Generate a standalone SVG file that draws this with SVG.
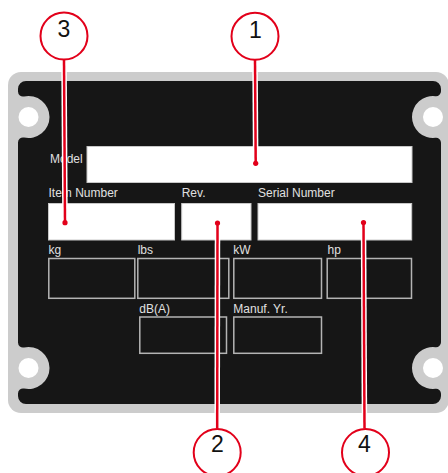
<svg xmlns="http://www.w3.org/2000/svg" width="448" height="473" viewBox="0 0 448 473">
<style>
.lbl{font-family:"Liberation Sans",Arial,sans-serif;font-size:12px;fill:#e0e0e0}
.fill{fill:#ffffff;stroke:#c8c8c8;stroke-width:1}
.out{fill:none;stroke:#b4b4b4;stroke-width:1.5}
.halo{stroke:#ffffff;stroke-width:5.5;fill:none}
.red{stroke:#e2001a;stroke-width:2.5;fill:none}
.dot{fill:#e2001a}
.circ{fill:#ffffff;stroke:#e2001a;stroke-width:2}
.num{font-family:"Liberation Sans",Arial,sans-serif;font-size:23px;fill:#111111;text-anchor:middle}
.hole{fill:#ffffff}
</style>
<rect width="448" height="473" fill="#ffffff"/>
<g id="plate">
<rect x="8" y="72" width="441" height="341" rx="13" fill="#cccccc"/>
<path fill="#161616" d="M26 81 H433 A8 8 0 0 1 441 89 V91.17 A5 5 0 0 1 435.42 96.14 A21 21 0 1 0 435.42 137.86 A5 5 0 0 1 441 142.83 V342.17 A5 5 0 0 1 435.42 347.14 A21 21 0 1 0 435.42 388.86 A5 5 0 0 1 441 393.83 V396 A8 8 0 0 1 433 404 H26 A8 8 0 0 1 18 396 V393.41 A5 5 0 0 1 24.06 388.52 A21 21 0 1 0 24.06 347.48 A5 5 0 0 1 18 342.59 V142.41 A5 5 0 0 1 24.06 137.52 A21 21 0 1 0 24.06 96.48 A5 5 0 0 1 18 91.59 V89 A8 8 0 0 1 26 81 Z"/>
<circle class="hole" cx="28.5" cy="117" r="10"/>
<circle class="hole" cx="433" cy="117" r="10"/>
<circle class="hole" cx="28.5" cy="368" r="10"/>
<circle class="hole" cx="433" cy="368" r="10"/>
</g>
<g id="field-model">
<text class="lbl" x="50" y="163.3">Model</text>
<rect class="fill" x="87" y="146.5" width="325" height="36"/>
</g>
<g id="field-item">
<text class="lbl" x="48.5" y="197.3">Item Number</text>
<rect class="fill" x="48.5" y="203.5" width="126" height="36.5"/>
</g>
<g id="field-rev">
<text class="lbl" x="181.7" y="197.3">Rev.</text>
<rect class="fill" x="181.7" y="203.5" width="69.3" height="36.5"/>
</g>
<g id="field-serial">
<text class="lbl" x="258" y="197.3">Serial Number</text>
<rect class="fill" x="258" y="203.5" width="153.7" height="36.5"/>
</g>
<g id="field-kg">
<text class="lbl" x="48.5" y="254">kg</text>
<rect class="out" x="48.8" y="258.5" width="86" height="39.8"/>
</g>
<g id="field-lbs">
<text class="lbl" x="137.7" y="254">lbs</text>
<rect class="out" x="137.8" y="258.5" width="91" height="39.8"/>
</g>
<g id="field-kw">
<text class="lbl" x="233.3" y="254">kW</text>
<rect class="out" x="233.8" y="258.5" width="87.7" height="39.8"/>
</g>
<g id="field-hp">
<text class="lbl" x="327.5" y="254">hp</text>
<rect class="out" x="327.2" y="258.5" width="84.3" height="39.8"/>
</g>
<g id="field-db">
<text class="lbl" x="139.3" y="312.7">dB(A)</text>
<rect class="out" x="139.8" y="317" width="86.7" height="36.3"/>
</g>
<g id="field-manuf">
<text class="lbl" x="233.3" y="312.7">Manuf. Yr.</text>
<rect class="out" x="233.8" y="317" width="87.7" height="36.3"/>
</g>
<g id="connectors">
<line class="halo" x1="255" y1="60" x2="255.7" y2="163.3"/>
<line class="halo" x1="64" y1="60" x2="65" y2="222.7"/>
<line class="halo" x1="217.5" y1="223" x2="217.2" y2="428.5"/>
<line class="halo" x1="363.5" y1="222.5" x2="364.5" y2="428.5"/>
<line class="red" x1="255" y1="60" x2="255.7" y2="163.3"/>
<line class="red" x1="64" y1="60" x2="65" y2="222.7"/>
<line class="red" x1="217.5" y1="223" x2="217.2" y2="428.5"/>
<line class="red" x1="363.5" y1="222.5" x2="364.5" y2="428.5"/>
<circle class="dot" cx="255.7" cy="163.3" r="2.6"/>
<circle class="dot" cx="65" cy="222.7" r="2.6"/>
<circle class="dot" cx="217.5" cy="223" r="2.6"/>
<circle class="dot" cx="363.5" cy="222.5" r="2.6"/>
</g>
<g id="callout-1">
<circle class="circ" cx="255" cy="36.3" r="23.5"/>
<text class="num" x="255.5" y="37.5">1</text>
</g>
<g id="callout-3">
<circle class="circ" cx="64" cy="36" r="23.5"/>
<text class="num" x="64" y="37">3</text>
</g>
<g id="callout-2">
<circle class="circ" cx="217.2" cy="452.5" r="23.5"/>
<text class="num" x="217.3" y="452.3">2</text>
</g>
<g id="callout-4">
<circle class="circ" cx="365.5" cy="452.5" r="23.5"/>
<text class="num" x="364.5" y="452.3">4</text>
</g>
</svg>
